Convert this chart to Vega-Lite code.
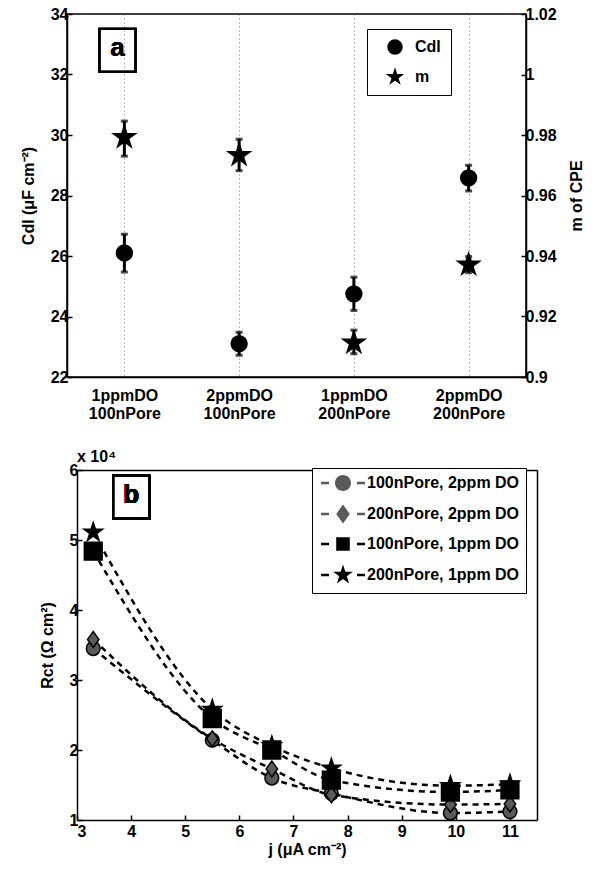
{
  "$schema": "https://vega.github.io/schema/vega-lite/v6.json",
  "padding": {"left": 19, "top": 5, "right": 5, "bottom": 5},
  "background": "white",
  "spacing": 27,
  "config": {
    "font": "Liberation Sans",
    "view": {"stroke": "black", "strokeWidth": 1.5},
    "axis": {
      "labelFont": "Liberation Sans", "labelFontWeight": "bold", "labelFontSize": 16, "labelColor": "black",
      "titleFont": "Liberation Sans", "titleFontWeight": "bold", "titleFontSize": 16, "titleColor": "black",
      "domainColor": "black", "domainWidth": 1.5, "tickColor": "black", "tickWidth": 1.5,
      "tickSize": -5, "labelPadding": 4, "grid": false
    },
    "legend": {"labelFont": "Liberation Sans", "labelFontWeight": "bold", "labelFontSize": 16, "labelColor": "black"}
  },
  "vconcat": [
    {
      "width": 459, "height": 363,
      "data": {"values": [
        {"cond": "1ppmDO 100nPore", "Cdl": 26.1, "Cdl_lo": 25.47, "Cdl_hi": 26.72, "m": 0.9792, "m_lo": 0.973, "m_hi": 0.9846},
        {"cond": "2ppmDO 100nPore", "Cdl": 23.1, "Cdl_lo": 22.72, "Cdl_hi": 23.48, "m": 0.9733, "m_lo": 0.9682, "m_hi": 0.9786},
        {"cond": "1ppmDO 200nPore", "Cdl": 24.75, "Cdl_lo": 24.2, "Cdl_hi": 25.3, "m": 0.9113, "m_lo": 0.9077, "m_hi": 0.9155},
        {"cond": "2ppmDO 200nPore", "Cdl": 28.58, "Cdl_lo": 28.15, "Cdl_hi": 29.0, "m": 0.9371, "m_lo": 0.9345, "m_hi": 0.9398}
      ]},
      "layer": [
        {
          "layer": [
            {
              "mark": {"type": "rule", "strokeWidth": 3, "color": "black"},
              "encoding": {
                "x": {"field": "cond", "type": "nominal", "sort": null, "scale": {"type": "point", "padding": 0.5},
                      "axis": {"labelExpr": "split(datum.label, ' ')", "labelAngle": 0, "title": null, "grid": true, "gridDash": [1, 3], "gridColor": "#777777", "gridWidth": 1, "ticks": false, "labelLineHeight": 18, "labelPadding": 10, "labelBaseline": "top"}},
                "y": {"field": "Cdl_lo", "type": "quantitative", "title": "Cdl (μF cm⁻²)", "scale": {"domain": [22, 34], "nice": false, "zero": false},
                      "axis": {"orient": "left", "values": [22, 24, 26, 28, 30, 32, 34], "titlePadding": 14}},
                "y2": {"field": "Cdl_hi"}
              }
            },
            {
              "mark": {"type": "tick", "thickness": 3, "size": 7, "color": "black"},
              "encoding": {
                "x": {"field": "cond", "type": "nominal", "sort": null},
                "y": {"field": "Cdl_lo", "type": "quantitative", "title": "Cdl (μF cm⁻²)"}
              }
            },
            {
              "mark": {"type": "tick", "thickness": 3, "size": 7, "color": "black"},
              "encoding": {
                "x": {"field": "cond", "type": "nominal", "sort": null},
                "y": {"field": "Cdl_hi", "type": "quantitative", "title": "Cdl (μF cm⁻²)"}
              }
            },
            {
              "mark": {"type": "point", "filled": true, "size": 300, "color": "black", "opacity": 1},
              "encoding": {
                "x": {"field": "cond", "type": "nominal", "sort": null},
                "y": {"field": "Cdl", "type": "quantitative", "title": "Cdl (μF cm⁻²)"},
                "shape": {"datum": "Cdl", "type": "nominal",
                          "scale": {"domain": ["Cdl", "m"], "range": ["circle", "M0,-1.25L0.2806,-0.3863L1.1889,-0.3863L0.4541,0.1475L0.7348,1.0113L0,0.4775L-0.7348,1.0113L-0.4541,0.1475L-1.1889,-0.3863L-0.2806,-0.3863Z"]},
                          "legend": {"title": null, "orient": "none", "legendX": 300, "legendY": 15, "strokeColor": "black", "fillColor": "white", "padding": 10, "symbolSize": 240, "symbolOffset": 10, "labelOffset": 12, "rowPadding": 12, "symbolFillColor": "black", "symbolStrokeWidth": 0}}
              }
            },
            {
              "mark": {"type": "point", "shape": "M-1.16,-1H0.52V1H-1.16Z", "size": 1849, "filled": false, "stroke": "black", "strokeWidth": 2, "opacity": 1},
              "encoding": {
                "x": {"datum": "1ppmDO 100nPore", "type": "nominal"},
                "y": {"datum": 32.8, "type": "quantitative"}
              }
            },
            {
              "mark": {"type": "text", "text": "a", "fontSize": 26, "fontWeight": "bold", "font": "Liberation Sans", "dx": -7, "dy": -2, "baseline": "middle", "align": "center", "color": "black"},
              "encoding": {
                "x": {"datum": "1ppmDO 100nPore", "type": "nominal"},
                "y": {"datum": 32.8, "type": "quantitative"}
              }
            }
          ]
        },
        {
          "layer": [
            {
              "mark": {"type": "rule", "strokeWidth": 3, "color": "black"},
              "encoding": {
                "x": {"field": "cond", "type": "nominal", "sort": null},
                "y": {"field": "m_lo", "type": "quantitative", "title": "m of CPE", "scale": {"domain": [0.9, 1.02], "nice": false, "zero": false},
                      "axis": {"orient": "right", "values": [0.9, 0.92, 0.94, 0.96, 0.98, 1, 1.02], "format": "~g", "titleAngle": 270, "titleBaseline": "top", "titlePadding": 12}},
                "y2": {"field": "m_hi"}
              }
            },
            {
              "mark": {"type": "tick", "thickness": 3, "size": 7, "color": "black"},
              "encoding": {
                "x": {"field": "cond", "type": "nominal", "sort": null},
                "y": {"field": "m_lo", "type": "quantitative", "title": "m of CPE"}
              }
            },
            {
              "mark": {"type": "tick", "thickness": 3, "size": 7, "color": "black"},
              "encoding": {
                "x": {"field": "cond", "type": "nominal", "sort": null},
                "y": {"field": "m_hi", "type": "quantitative", "title": "m of CPE"}
              }
            },
            {
              "mark": {"type": "point", "filled": true, "size": 502, "color": "black", "opacity": 1},
              "encoding": {
                "x": {"field": "cond", "type": "nominal", "sort": null},
                "y": {"field": "m", "type": "quantitative", "title": "m of CPE"},
                "shape": {"datum": "m", "type": "nominal"}
              }
            }
          ]
        }
      ],
      "resolve": {"scale": {"y": "independent"}}
    },
    {
      "width": 470, "height": 350,
      "view": {"stroke": null},
      "title": {"text": "x 10⁴", "anchor": "start", "frame": "group", "dx": 10, "offset": -3, "fontSize": 16, "fontWeight": "bold", "font": "Liberation Sans", "color": "black"},
      "data": {"values": [
        {"series": "100nPore, 2ppm DO", "j": 3.3, "Rct": 34500},
        {"series": "100nPore, 2ppm DO", "j": 5.5, "Rct": 21400},
        {"series": "100nPore, 2ppm DO", "j": 6.6, "Rct": 16000},
        {"series": "100nPore, 2ppm DO", "j": 7.7, "Rct": 13800},
        {"series": "100nPore, 2ppm DO", "j": 9.9, "Rct": 11000},
        {"series": "100nPore, 2ppm DO", "j": 11.0, "Rct": 11200},
        {"series": "200nPore, 2ppm DO", "j": 3.3, "Rct": 35800},
        {"series": "200nPore, 2ppm DO", "j": 5.5, "Rct": 21600},
        {"series": "200nPore, 2ppm DO", "j": 6.6, "Rct": 17300},
        {"series": "200nPore, 2ppm DO", "j": 7.7, "Rct": 13600},
        {"series": "200nPore, 2ppm DO", "j": 9.9, "Rct": 12200},
        {"series": "200nPore, 2ppm DO", "j": 11.0, "Rct": 12300},
        {"series": "100nPore, 1ppm DO", "j": 3.3, "Rct": 48400},
        {"series": "100nPore, 1ppm DO", "j": 5.5, "Rct": 24500},
        {"series": "100nPore, 1ppm DO", "j": 6.6, "Rct": 20000},
        {"series": "100nPore, 1ppm DO", "j": 7.7, "Rct": 15700},
        {"series": "100nPore, 1ppm DO", "j": 9.9, "Rct": 14000},
        {"series": "100nPore, 1ppm DO", "j": 11.0, "Rct": 14300},
        {"series": "200nPore, 1ppm DO", "j": 3.3, "Rct": 51100},
        {"series": "200nPore, 1ppm DO", "j": 5.5, "Rct": 25800},
        {"series": "200nPore, 1ppm DO", "j": 6.6, "Rct": 20600},
        {"series": "200nPore, 1ppm DO", "j": 7.7, "Rct": 17400},
        {"series": "200nPore, 1ppm DO", "j": 9.9, "Rct": 14900},
        {"series": "200nPore, 1ppm DO", "j": 11.0, "Rct": 15100}
      ]},
      "layer": [
        {
          "mark": {"type": "line", "strokeDash": [6, 5], "strokeWidth": 2.5, "color": "black", "interpolate": "monotone"},
          "encoding": {
            "x": {"field": "j", "type": "quantitative", "title": "j (μA cm⁻²)", "scale": {"domain": [3, 11.5], "range": [10, 470], "nice": false, "zero": false},
                  "axis": {"orient": "bottom", "values": [3, 4, 5, 6, 7, 8, 9, 10, 11], "labelPadding": 8, "titlePadding": 2}},
            "y": {"field": "Rct", "type": "quantitative", "title": "Rct (Ω cm²)", "scale": {"domain": [10000, 60000], "nice": false, "zero": false},
                  "axis": {"orient": "left", "offset": -10, "values": [10000, 20000, 30000, 40000, 50000, 60000], "labelExpr": "datum.value / 10000", "titlePadding": 14}},
            "detail": {"field": "series", "type": "nominal"}
          }
        },
        {
          "mark": {"type": "point", "filled": true, "stroke": "black", "strokeWidth": 1.5, "opacity": 1},
          "encoding": {
            "x": {"field": "j", "type": "quantitative", "axis": null},
            "y": {"field": "Rct", "type": "quantitative", "axis": null},
            "shape": {"field": "series", "type": "nominal", "legend": null,
                      "scale": {"domain": ["100nPore, 2ppm DO", "200nPore, 2ppm DO", "100nPore, 1ppm DO", "200nPore, 1ppm DO"],
                                "range": ["circle", "M0,-1L0.72,0L0,1L-0.72,0Z", "square", "M0,-1L0.2245,-0.309L0.9511,-0.309L0.3633,0.118L0.5878,0.809L0,0.382L-0.5878,0.809L-0.3633,0.118L-0.9511,-0.309L-0.2245,-0.309Z"]}},
            "fill": {"field": "series", "type": "nominal", "legend": null,
                     "scale": {"domain": ["100nPore, 2ppm DO", "200nPore, 2ppm DO", "100nPore, 1ppm DO", "200nPore, 1ppm DO"],
                               "range": ["#5a5a5a", "#5a5a5a", "#000000", "#000000"]}},
            "size": {"field": "series", "type": "nominal", "legend": null,
                     "scale": {"domain": ["100nPore, 2ppm DO", "200nPore, 2ppm DO", "100nPore, 1ppm DO", "200nPore, 1ppm DO"],
                               "range": [190, 380, 190, 760]}}
          }
        },
        {
          "transform": [{"filter": "false"}],
          "mark": {"type": "point", "filled": true, "stroke": "black", "strokeWidth": 1.5, "size": 256, "opacity": 1},
          "encoding": {
            "shape": {"field": "series", "type": "nominal",
                      "scale": {"domain": ["100nPore, 2ppm DO", "200nPore, 2ppm DO", "100nPore, 1ppm DO", "200nPore, 1ppm DO"],
                                "range": [
                                  "M-1,0A1,1 0 1,1 1,0A1,1 0 1,1 -1,0Z M-2.75,-0.15H-1.75V0.15H-2.75Z M1.75,-0.15H2.75V0.15H1.75Z",
                                  "M0,-1.2L0.85,0L0,1.2L-0.85,0Z M-2.75,-0.15H-1.75V0.15H-2.75Z M1.75,-0.15H2.75V0.15H1.75Z",
                                  "M-0.85,-0.85H0.85V0.85H-0.85Z M-2.75,-0.15H-1.75V0.15H-2.75Z M1.75,-0.15H2.75V0.15H1.75Z",
                                  "M0,-1.3L0.2919,-0.4017L1.2364,-0.4017L0.4723,0.1534L0.7641,1.0517L0,0.4966L-0.7641,1.0517L-0.4723,0.1534L-1.2364,-0.4017L-0.2919,-0.4017Z M-2.75,-0.15H-1.75V0.15H-2.75Z M1.75,-0.15H2.75V0.15H1.75Z"
                                ]},
                      "legend": {"title": null, "orient": "none", "legendX": 245, "legendY": -2, "strokeColor": "black", "fillColor": "white", "padding": 6, "symbolSize": 256, "symbolOffset": 16, "labelOffset": 15, "rowPadding": 7, "symbolStrokeColor": "black", "symbolStrokeWidth": 1.5,
                                 "encode": {"symbols": {"update": {"stroke": {"value": "black"}, "strokeWidth": {"value": 1.5}}}}}},
            "fill": {"field": "series", "type": "nominal",
                     "scale": {"domain": ["100nPore, 2ppm DO", "200nPore, 2ppm DO", "100nPore, 1ppm DO", "200nPore, 1ppm DO"],
                               "range": ["#5a5a5a", "#5a5a5a", "#000000", "#000000"]},
                     "legend": {"title": null, "orient": "none", "legendX": 245, "legendY": -2, "strokeColor": "black", "fillColor": "white", "padding": 6, "symbolSize": 256, "symbolOffset": 16, "labelOffset": 15, "rowPadding": 7, "symbolStrokeColor": "black", "symbolStrokeWidth": 1.5,
                                "encode": {"symbols": {"update": {"stroke": {"value": "black"}, "strokeWidth": {"value": 1.5}}}}}}
          }
        },
        {
          "mark": {"type": "text", "text": "b", "fontSize": 26, "fontWeight": "bold", "font": "Liberation Sans", "dy": -2, "baseline": "middle", "align": "center", "color": "black"},
          "encoding": {
            "x": {"datum": 4.0, "type": "quantitative", "axis": {"orient": "top", "labels": false, "ticks": false, "title": null, "domain": true}},
            "y": {"datum": 56100, "type": "quantitative", "axis": {"orient": "right", "labels": false, "ticks": false, "title": null, "domain": true}}
          }
        },
        {
          "mark": {"type": "point", "shape": "M-0.84,-1H0.84V1H-0.84Z", "size": 1849, "filled": false, "stroke": "black", "strokeWidth": 2, "opacity": 1},
          "encoding": {
            "x": {"datum": 4.0, "type": "quantitative", "axis": null},
            "y": {"datum": 56100, "type": "quantitative", "axis": null}
          }
        }
      ],
      "resolve": {"scale": {"shape": "independent", "fill": "independent", "size": "independent"}, "axis": {"x": "independent", "y": "independent"}}
    }
  ]
}
